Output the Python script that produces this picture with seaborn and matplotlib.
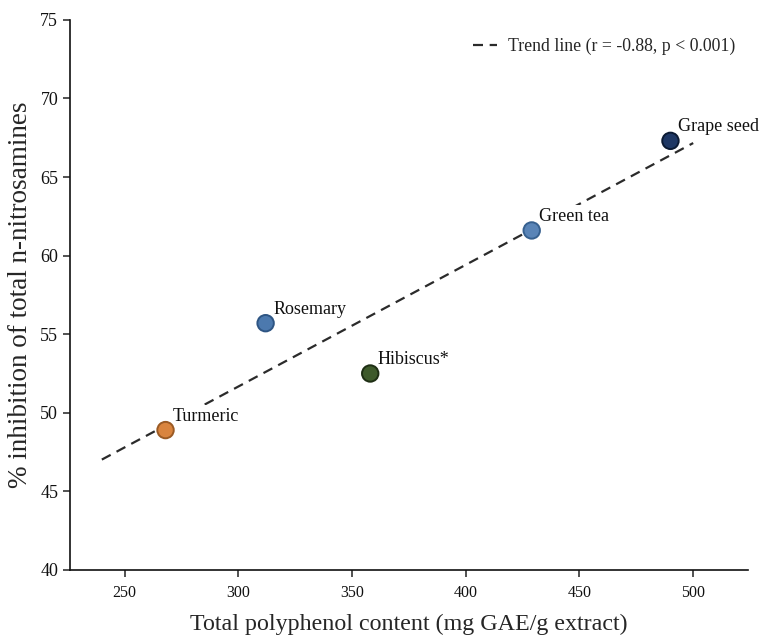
import numpy as np
import pandas as pd
import matplotlib
matplotlib.use("Agg")
import matplotlib.pyplot as plt
import seaborn as sns

extracts = ["Turmeric", "Rosemary", "Hibiscus*", "Green tea", "Grape seed"]
polyphenol = [268, 312, 358, 429, 490]
inhibition = [48.9, 55.7, 52.5, 61.6, 67.3]
colors = ["#D9843E", "#4C79AE", "#3E5A2B", "#5984B7", "#1E3764"]
edges = ["#9A5A24", "#2E5583", "#1E2E14", "#36608F", "#0B1A33"]
trend_x = [240, 500]
legend_label = "Trend line (r = -0.88, p < 0.001)"
x_ticks = [250, 300, 350, 400, 450, 500]
y_ticks = [40, 45, 50, 55, 60, 65, 70, 75]

df = pd.DataFrame({"extract": extracts, "tpc": polyphenol, "inh": inhibition})

sns.set_theme(style="ticks")
plt.rcParams["font.family"] = ["Liberation Serif", "DejaVu Serif"]

fig = plt.figure(figsize=(7.65, 6.39), dpi=100)
ax = fig.add_axes([0.0915, 0.108, 0.886, 0.861])

slope, intercept = np.polyfit(polyphenol, inhibition, 1)
tx = np.array(trend_x, dtype=float)
ax.plot(tx, slope * tx + intercept, linestyle=(0, (4.5, 3)), color="#2b2b2b",
        linewidth=1.6, label=legend_label, zorder=2)

sns.scatterplot(data=df, x="tpc", y="inh", hue="extract", palette=colors,
                s=140, linewidth=1.4, edgecolor=edges, legend=False, ax=ax, zorder=4)

for name, xv, yv in zip(extracts, polyphenol, inhibition):
    ax.annotate(name, (xv, yv), xytext=(5.5, 10), textcoords="offset points",
                ha="left", va="center", fontsize=13, color="#111111", zorder=3,
                bbox=dict(boxstyle="square,pad=0.15", facecolor="white", edgecolor="none"))

ax.set_xlim(226, 524)
ax.set_ylim(40, 75)
ax.set_xticks(x_ticks)
ax.set_yticks(y_ticks)
ax.tick_params(axis="both", length=5, width=1.1, color="#222222",
               direction="out", labelcolor="#111111")
ax.tick_params(axis="x", labelsize=11.5, pad=6)
ax.tick_params(axis="y", labelsize=13)
ax.set_xlabel("Total polyphenol content (mg GAE/g extract)", fontsize=17.3, labelpad=9)
ax.set_ylabel("% inhibition of total n-nitrosamines", fontsize=19.5, labelpad=5)
sns.despine(ax=ax)
for sp in ["left", "bottom"]:
    ax.spines[sp].set_linewidth(1.2)
    ax.spines[sp].set_color("#111111")

ax.legend(loc="upper right", frameon=False, fontsize=12.8, handlelength=1.4,
          handletextpad=0.6, borderaxespad=0.3, bbox_to_anchor=(1.0, 0.99))

fig.savefig("out.png", dpi=100)
